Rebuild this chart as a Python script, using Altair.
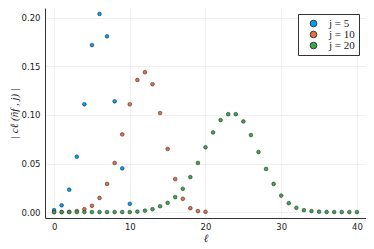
import altair as alt
import pandas as pd

series_names = ["j = 5", "j = 10", "j = 20"]
colors = ["#009AFA", "#E36F47", "#3EA44E"]

blue_vals = [0.002, 0.007, 0.023, 0.057, 0.111, 0.172, 0.204, 0.181, 0.114, 0.045, 0.0085]
orange_vals = [0.0, 0.0, 0.0002, 0.001, 0.003, 0.0065, 0.0145, 0.029, 0.0506, 0.080, 0.111,
               0.136, 0.144, 0.1316, 0.102, 0.065, 0.034, 0.0137, 0.004, 0.001, 0.0003]
green_vals = [0.0] * 11 + [0.0005, 0.0015, 0.003, 0.006, 0.0095, 0.0154, 0.024, 0.036, 0.0506,
              0.0667, 0.082, 0.0947, 0.1008, 0.1008, 0.0933, 0.0793, 0.0618, 0.0444, 0.029,
              0.017, 0.0092, 0.0044, 0.002, 0.001, 0.0004, 0.0001, 0.0, 0.0, 0.0, 0.0]

x_ticks = [0, 10, 20, 30, 40]
y_ticks = [0.0, 0.05, 0.10, 0.15, 0.20]

rows = []
for name, vals in zip(series_names, [blue_vals, orange_vals, green_vals]):
    for l, v in enumerate(vals):
        rows.append({"l": l, "c": v, "series": name})
df = pd.DataFrame(rows)

chart = alt.Chart(df).mark_point(
    filled=True, shape="circle", size=14, opacity=1, stroke="#222", strokeWidth=0.5
).encode(
    x=alt.X("l:Q", scale=alt.Scale(domain=[-1.2, 41.2], nice=False, zero=False),
            axis=alt.Axis(values=x_ticks, title="ℓ", format="d")),
    y=alt.Y("c:Q", scale=alt.Scale(domain=[-0.0061, 0.2101], nice=False, zero=False),
            axis=alt.Axis(values=y_ticks, title="| cℓ (ñf , j) |", format=".2f")),
    color=alt.Color("series:N", scale=alt.Scale(domain=series_names, range=colors),
                    legend=alt.Legend(title=None, orient="none", legendX=253, legendY=6,
                                      symbolStrokeColor="#222", symbolStrokeWidth=0.8)),
).properties(
    width=321, height=210,
    autosize=alt.AutoSizeParams(type="none"),
    padding={"left": 37, "top": 0, "right": 0, "bottom": 30},
).configure_view(
    stroke=None
).configure_axis(
    domainColor="#333", domainWidth=1, ticks=False,
    gridColor="#e6e6e6", gridWidth=0.6,
    labelFont="DejaVu Sans", labelFontSize=8.5, labelColor="#222",
    titleFont="Liberation Serif", titleFontStyle="italic", titleFontWeight="normal",
    titleFontSize=11, titleColor="#222",
).configure_axisY(
    labelPadding=5, titlePadding=2, titleFontSize=11,
).configure_axisX(
    labelPadding=4, titlePadding=2,
).configure_legend(
    strokeColor="#333", fillColor="white", padding=4, cornerRadius=0,
    symbolType="circle", symbolSize=45, symbolOffset=6, labelOffset=10,
    labelFont="Liberation Serif", labelFontSize=11, labelColor="#222",
    rowPadding=-1, symbolOpacity=1,
)

chart.save("out.html", embed_options={"renderer": "svg", "actions": False})
